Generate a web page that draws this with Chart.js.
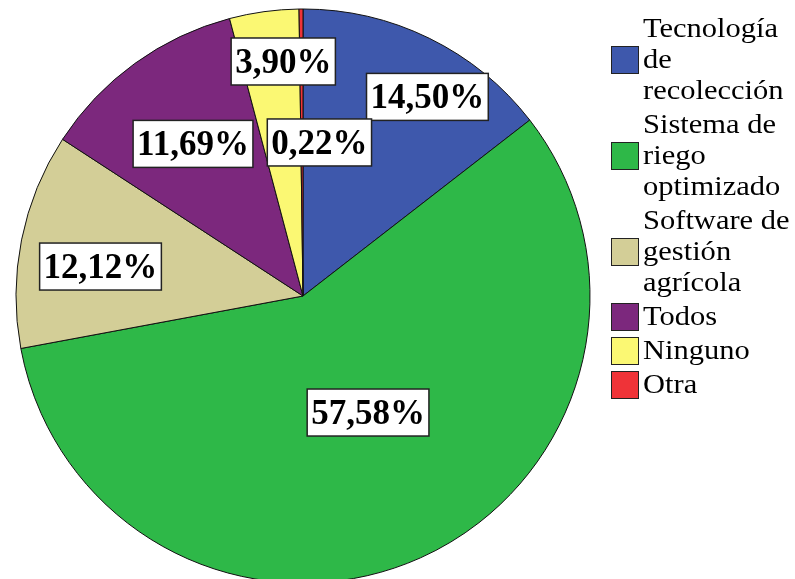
<!DOCTYPE html>
<html>
<head>
<meta charset="utf-8">
<script src="https://cdn.jsdelivr.net/npm/chart.js@4"></script>
<style>
  body { margin: 0; background: #fff; }
  .wrap { position: relative; width: 795px; height: 579px; overflow: hidden; }
  .legend { position: absolute; left: 611px; top: 13px; }
  .legend-item { display: flex; align-items: center; margin-bottom: 3px; }
  .swatch { width: 26px; height: 26px; border: 1px solid #222; flex: none; }
  .legend-text {
    width: 135px; margin-left: 4px;
    font: 27px "Liberation Serif", "Times New Roman", serif;
    line-height: 31px; color: #000;
    transform: scaleX(1.13); transform-origin: left center;
  }
</style>
</head>
<body>
<div class="wrap">
  <canvas id="pieChart" width="795" height="579"></canvas>
  <div class="legend" id="legend"></div>
</div>
<script>
// ===== Data =====
const categories = [
  "Tecnología de recolección",
  "Sistema de riego optimizado",
  "Software de gestión agrícola",
  "Todos",
  "Ninguno",
  "Otra"
];
const shares = [14.50, 57.58, 12.12, 11.69, 3.90, 0.22];
const sliceColors = ["#3E58AC", "#2EB848", "#D3CE97", "#7C287D", "#FBF873", "#EF3338"];

// label box placement: [fraction of radius, angle nudge in degrees]
const labelPlacement = [
  [0.818, 5.9],
  [0.465, -5],
  [0.713, -3],
  [0.654, 0],
  [0.820, 3],
  [0.538, 6.5]
];

// ===== Percentage boxes on the slices =====
const pieLabels = {
  id: 'pieLabels',
  afterDatasetsDraw(chart) {
    const ctx = chart.ctx;
    const meta = chart.getDatasetMeta(0);
    ctx.save();
    ctx.font = 'bold 35px "Liberation Serif", "Times New Roman", serif';
    ctx.textAlign = 'center';
    ctx.textBaseline = 'middle';
    meta.data.forEach((arc, i) => {
      const { x, y, startAngle, endAngle, outerRadius } =
        arc.getProps(['x', 'y', 'startAngle', 'endAngle', 'outerRadius'], true);
      const [frac, nudge] = labelPlacement[i];
      const a = (startAngle + endAngle) / 2 + nudge * Math.PI / 180;
      const cx = x + Math.cos(a) * outerRadius * frac;
      const cy = y + Math.sin(a) * outerRadius * frac;
      const text = shares[i].toFixed(2).replace('.', ',') + '%';
      const w = ctx.measureText(text).width + 8;
      const h = 47;
      ctx.fillStyle = '#fff';
      ctx.fillRect(cx - w / 2, cy - h / 2, w, h);
      ctx.strokeStyle = '#222';
      ctx.lineWidth = 1.5;
      ctx.strokeRect(cx - w / 2, cy - h / 2, w, h);
      ctx.fillStyle = '#000';
      ctx.fillText(text, cx, cy + 2);
    });
    ctx.restore();
  }
};

new Chart(document.getElementById('pieChart'), {
  type: 'pie',
  data: {
    labels: categories,
    datasets: [{
      data: shares,
      backgroundColor: sliceColors,
      borderColor: '#111',
      borderWidth: 1,
      radius: 287,
      clip: false
    }]
  },
  options: {
    responsive: false,
    animation: false,
    layout: { padding: { left: 0, right: 189, top: 13, bottom: 0 } },
    plugins: {
      legend: { display: false },
      tooltip: { enabled: false }
    }
  },
  plugins: [pieLabels]
});

// ===== Legend =====
const legendBox = document.getElementById('legend');
categories.forEach((name, i) => {
  const item = document.createElement('div');
  item.className = 'legend-item';
  item.innerHTML = `<span class="swatch" style="background:${sliceColors[i]}"></span>` +
                   `<span class="legend-text">${name}</span>`;
  legendBox.appendChild(item);
});
</script>
</body>
</html>
